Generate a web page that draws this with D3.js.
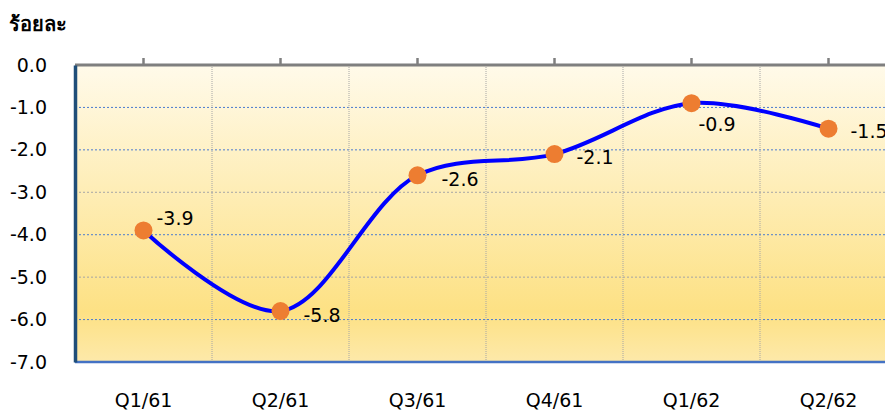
<!DOCTYPE html>
<html>
<head>
<meta charset="utf-8">
<script src="https://cdn.jsdelivr.net/npm/d3@7"></script>
<style>
  body { margin: 0; background: #fff; }
  svg { font-family: Tahoma, "DejaVu Sans", "Noto Sans", sans-serif; }
</style>
</head>
<body>
<script>
// data
const quarters = ["Q1/61", "Q2/61", "Q3/61", "Q4/61", "Q1/62", "Q2/62"];
const values = [-3.9, -5.8, -2.6, -2.1, -0.9, -1.5];
const yTicks = [0, -1, -2, -3, -4, -5, -6, -7];

const width = 885, height = 412;
const margin = { top: 65, left: 75, bottom: 50 };
const bandW = 137;
const plotW = bandW * quarters.length;
const plotH = height - margin.top - margin.bottom;

const svg = d3.select("body").append("svg")
    .attr("width", width)
    .attr("height", height);

// gradient fill
const defs = svg.append("defs");
const grad = defs.append("linearGradient")
    .attr("id", "bg")
    .attr("x1", 0).attr("y1", 0).attr("x2", 0).attr("y2", 1);
grad.append("stop").attr("offset", "0%").attr("stop-color", "#fffaea");
grad.append("stop").attr("offset", "83%").attr("stop-color", "#fde184");
grad.append("stop").attr("offset", "100%").attr("stop-color", "#fde9aa");

const g = svg.append("g")
    .attr("transform", `translate(${margin.left},${margin.top})`);

const x = d3.scaleBand()
    .domain(quarters)
    .range([0, plotW]);

const y = d3.scaleLinear()
    .domain([0, -7])
    .range([0, plotH]);

g.append("rect")
    .attr("width", plotW)
    .attr("height", plotH)
    .attr("fill", "url(#bg)");

// horizontal grid
g.selectAll(".hgrid")
    .data(yTicks.filter(d => d !== 0 && d !== -7))
    .enter().append("line")
    .attr("x1", 0).attr("x2", plotW)
    .attr("y1", d => y(d)).attr("y2", d => y(d))
    .attr("stroke", d => (d === -3 || d === -5) ? "#a6a6a6" : "#4a7bd0")
    .attr("stroke-width", 1)
    .attr("stroke-dasharray", "2,2");

// vertical grid between categories
g.selectAll(".vgrid")
    .data(quarters.slice(1))
    .enter().append("line")
    .attr("x1", d => x(d)).attr("x2", d => x(d))
    .attr("y1", 0).attr("y2", plotH)
    .attr("stroke", "#a6a6a6")
    .attr("stroke-width", 1)
    .attr("stroke-dasharray", "1,1");

const cx = d => x(d) + x.bandwidth() / 2;

// top axis with ticks at category centers
const topAxis = g.append("g");
topAxis.append("line")
    .attr("x1", 0).attr("x2", plotW)
    .attr("y1", 0).attr("y2", 0)
    .attr("stroke", "#7f7f7f").attr("stroke-width", 3);
topAxis.selectAll(".tk")
    .data(quarters)
    .enter().append("line")
    .attr("x1", cx).attr("x2", cx)
    .attr("y1", 0).attr("y2", -7)
    .attr("stroke", "#7f7f7f").attr("stroke-width", 2.5);

// bottom axis line
g.append("line")
    .attr("x1", 0).attr("x2", plotW)
    .attr("y1", plotH).attr("y2", plotH)
    .attr("stroke", "#4472c4")
    .attr("stroke-width", 2.5);

// left axis
const leftAxis = g.append("g")
    .call(d3.axisLeft(y).tickValues(yTicks).tickSize(0).tickPadding(28)
        .tickFormat(d => d3.format(".1f")(d).replace("−", "-")));
leftAxis.select(".domain").attr("stroke", "#1f4e79").attr("stroke-width", 3.5);
leftAxis.selectAll("text")
    .attr("font-size", 19)
    .attr("font-family", "Tahoma, 'DejaVu Sans', sans-serif")
    .attr("fill", "#000");

// category labels
g.selectAll(".xlab")
    .data(quarters)
    .enter().append("text")
    .attr("x", cx)
    .attr("y", plotH + 45)
    .attr("text-anchor", "middle")
    .attr("font-size", 19)
    .text(d => d);

// line
const pts = quarters.map((q, i) => ({ q, v: values[i] }));
const line = d3.line()
    .x(d => cx(d.q))
    .y(d => y(d.v))
    .curve(d3.curveCatmullRom.alpha(0.5));

g.append("path")
    .datum(pts)
    .attr("fill", "none")
    .attr("stroke", "#0000ff")
    .attr("stroke-width", 4)
    .attr("d", line);

g.selectAll(".dot")
    .data(pts)
    .enter().append("circle")
    .attr("cx", d => cx(d.q))
    .attr("cy", d => y(d.v))
    .attr("r", 9)
    .attr("fill", "#ed7d31");

// value labels
const labOff = [[13, -5], [23, 11], [24, 11], [22, 10], [7, 28], [22, 9]];
g.selectAll(".val")
    .data(pts)
    .enter().append("text")
    .attr("x", (d, i) => cx(d.q) + labOff[i][0])
    .attr("y", (d, i) => y(d.v) + labOff[i][1])
    .attr("font-size", 19)
    .attr("fill", "#000")
    .text(d => d3.format(".1f")(d.v).replace("−", "-"));

// unit title
svg.append("text")
    .attr("x", 9)
    .attr("y", 31)
    .attr("font-size", 20)
    .attr("font-weight", "bold")
    .text("ร้อยละ");
</script>
</body>
</html>
